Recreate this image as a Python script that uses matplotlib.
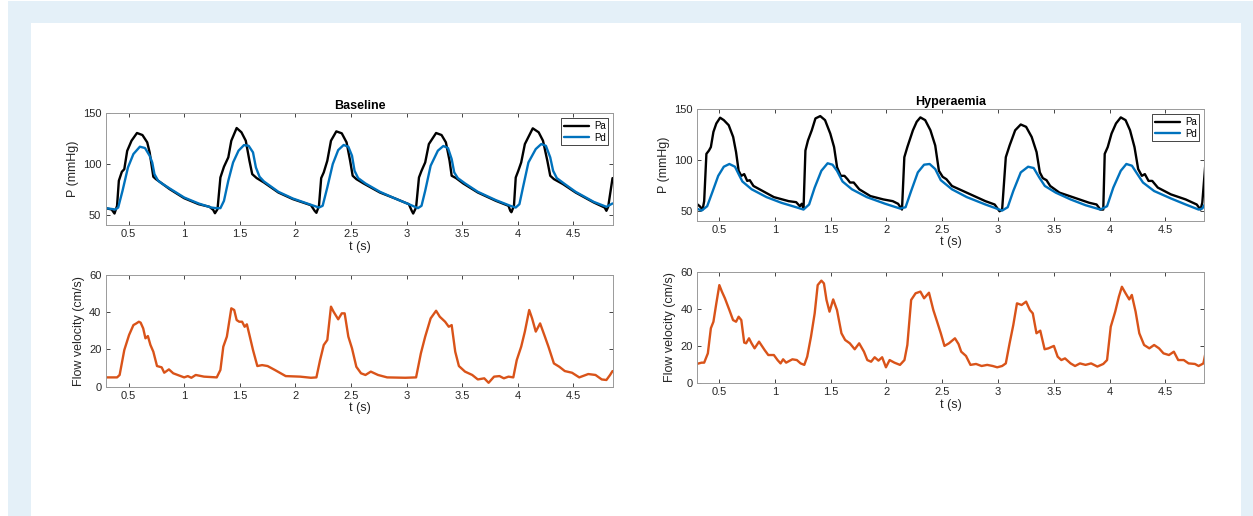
import numpy as np
import matplotlib.pyplot as plt
from matplotlib.patches import Rectangle

plt.rcParams['font.family'] = ['Liberation Sans', 'DejaVu Sans']
plt.rcParams['lines.solid_joinstyle'] = 'round'
plt.rcParams['lines.solid_capstyle'] = 'round'

# ---- Baseline: pressures ----
t_pa_base = [0.293, 0.348, 0.374, 0.397, 0.413, 0.44, 0.462, 0.488, 0.527, 0.576, 0.625, 0.668, 0.69,
             0.723, 0.746, 0.788, 0.87, 1.0, 1.13, 1.228, 1.261, 1.277,
             1.30, 1.326, 1.358, 1.397, 1.424, 1.472, 1.515, 1.554, 1.587, 1.612, 1.652, 1.717, 1.847,
             1.977, 2.14, 2.173, 2.189,
             2.212, 2.232, 2.255, 2.287, 2.32, 2.368, 2.417, 2.46, 2.492, 2.515, 2.548, 2.613, 2.76,
             2.89, 3.02, 3.046, 3.059,
             3.085, 3.111, 3.134, 3.167, 3.2, 3.265, 3.314, 3.353, 3.386, 3.405, 3.444, 3.509, 3.64,
             3.802, 3.916, 3.932, 3.942,
             3.965, 3.981, 4.004, 4.03, 4.063, 4.134, 4.187, 4.226, 4.265, 4.291, 4.324, 4.405, 4.519,
             4.682, 4.78, 4.796, 4.812, 4.851]
pa_base = [56.6, 55.3, 51.3, 58.9, 83.6, 92.4, 95.0, 113.0, 123.0, 130.6, 128.6, 121.4, 111.5,
           87.5, 85.2, 81.9, 75.3, 66.4, 60.5, 57.9, 54.9, 51.6,
           55.6, 86.8, 97.4, 106.6, 123.0, 135.5, 131.3, 123.0, 103.3, 90.1, 86.2, 81.9, 72.0,
           65.5, 59.5, 54.0, 52.0,
           58.9, 86.2, 91.8, 103.3, 123.0, 132.2, 130.3, 121.4, 103.3, 88.5, 85.2, 80.9, 72.0,
           66.4, 60.5, 54.0, 51.3,
           57.2, 86.8, 93.4, 101.6, 119.7, 130.6, 128.6, 121.4, 103.3, 88.5, 86.2, 80.9, 72.0,
           63.8, 58.9, 54.0, 52.6,
           58.9, 86.8, 93.4, 101.6, 119.7, 135.2, 131.3, 123.0, 103.3, 88.5, 85.2, 80.3, 72.0,
           62.2, 57.2, 54.0, 57.9, 86.2]

t_pd_base = [0.293, 0.381, 0.407, 0.446, 0.495, 0.544, 0.602, 0.648, 0.69, 0.713, 0.733, 0.766, 0.8,
             0.87, 1.0, 1.13, 1.244, 1.287,
             1.326, 1.358, 1.397, 1.44, 1.489, 1.538, 1.58, 1.619, 1.645, 1.678, 1.717, 1.847, 1.977,
             2.14, 2.212,
             2.245, 2.287, 2.336, 2.385, 2.434, 2.476, 2.509, 2.532, 2.564, 2.63, 2.76, 2.89, 3.02, 3.102,
             3.134, 3.167, 3.216, 3.281, 3.33, 3.372, 3.405, 3.428, 3.46, 3.526, 3.64, 3.802, 3.932, 3.981,
             4.014, 4.046, 4.095, 4.161, 4.21, 4.252, 4.291, 4.317, 4.35, 4.422, 4.519, 4.682, 4.796, 4.851]
pd_base = [56.6, 55.3, 57.2, 73.7, 96.7, 109.9, 117.1, 115.8, 108.2, 101.6, 90.1, 83.6, 80.9,
           76.0, 67.1, 61.2, 57.2, 56.6,
           56.6, 63.8, 83.6, 101.6, 113.2, 118.7, 118.0, 111.5, 96.7, 87.5, 82.9, 72.7, 66.1,
           59.9, 57.2,
           58.9, 77.0, 100.0, 113.8, 118.8, 117.1, 108.2, 93.4, 86.2, 80.9, 72.7, 66.4, 60.5, 56.6,
           58.9, 73.7, 98.4, 113.2, 117.8, 115.8, 104.9, 91.8, 86.2, 80.9, 72.7, 64.5, 58.9, 57.2,
           60.5, 77.0, 101.6, 114.8, 119.7, 118.0, 106.6, 93.4, 86.2, 80.3, 72.7, 62.8, 57.9, 61.2]

# ---- Baseline: flow velocity ----
t_flow_base = [0.293, 0.397, 0.42, 0.462, 0.505, 0.544, 0.57, 0.593, 0.609, 0.632, 0.652, 0.674, 0.697,
               0.723, 0.756, 0.798, 0.821, 0.863, 0.902, 1.0, 1.033, 1.065, 1.104, 1.179, 1.293,
               1.326, 1.352, 1.384, 1.424, 1.45, 1.472, 1.495, 1.521, 1.544, 1.564, 1.587, 1.619, 1.658,
               1.701, 1.75, 1.815, 1.913, 2.043, 2.14, 2.189,
               2.222, 2.255, 2.287, 2.32, 2.343, 2.385, 2.417, 2.443, 2.476, 2.509, 2.548, 2.59, 2.63,
               2.678, 2.743, 2.825, 2.988, 3.085,
               3.128, 3.167, 3.216, 3.265, 3.298, 3.346, 3.379, 3.405, 3.437, 3.47, 3.525, 3.59, 3.64,
               3.698, 3.737, 3.786, 3.835, 3.874, 3.916, 3.959,
               3.99, 4.03, 4.063, 4.102, 4.128, 4.161, 4.2, 4.243, 4.275, 4.324, 4.373, 4.422, 4.487,
               4.552, 4.633, 4.698, 4.754, 4.796, 4.829, 4.851]
flow_base = [5.0, 5.0, 6.3, 19.7, 27.8, 33.1, 34.0, 34.9, 34.4, 31.3, 26.0, 27.2, 22.4,
             18.8, 11.1, 10.4, 7.5, 9.3, 7.2, 5.0, 5.7, 4.8, 6.3, 5.4, 5.0,
             9.0, 21.5, 26.9, 42.1, 41.2, 35.8, 34.9, 34.9, 32.2, 33.5, 27.8, 19.7, 11.1,
             11.6, 11.1, 9.0, 5.7, 5.4, 4.8, 5.0,
             14.3, 22.4, 25.1, 43.0, 40.3, 36.2, 39.4, 39.4, 26.9, 20.6, 10.7, 7.2, 6.3,
             8.1, 6.3, 5.0, 4.8, 5.0,
             17.9, 26.9, 36.7, 40.8, 37.6, 34.9, 32.2, 33.1, 18.8, 11.1, 8.1, 6.3, 3.9,
             4.5, 2.1, 5.4, 5.7, 4.5, 5.4, 5.0,
             14.3, 21.5, 29.6, 41.2, 36.7, 29.6, 34.0, 26.9, 21.5, 12.5, 10.7, 8.4, 7.5,
             5.0, 6.8, 6.3, 3.9, 3.6, 6.3, 8.4]

# ---- Hyperaemia: pressures ----
t_pa_hyp = [0.298, 0.325, 0.351, 0.365, 0.385, 0.408, 0.425, 0.448, 0.474, 0.508, 0.541, 0.585, 0.625,
            0.651, 0.674, 0.698, 0.724, 0.751, 0.774, 0.807, 0.89, 0.99, 1.123, 1.19, 1.223, 1.24, 1.256,
            1.273, 1.296, 1.33, 1.363, 1.406, 1.449, 1.496, 1.53, 1.557, 1.59, 1.623, 1.65, 1.673, 1.706,
            1.756, 1.856, 1.972, 2.056, 2.104, 2.139,
            2.16, 2.187, 2.237, 2.271, 2.304, 2.347, 2.394, 2.437, 2.47, 2.504, 2.537, 2.587, 2.687,
            2.787, 2.887, 2.97, 3.014, 3.037,
            3.07, 3.104, 3.154, 3.204, 3.252, 3.302, 3.346, 3.375, 3.402, 3.435, 3.468, 3.551, 3.685,
            3.818, 3.884, 3.918, 3.944,
            3.957, 3.984, 4.018, 4.058, 4.101, 4.144, 4.184, 4.224, 4.257, 4.29, 4.317, 4.35, 4.383,
            4.433, 4.55, 4.683, 4.782, 4.816, 4.832, 4.872]
pa_hyp = [56.7, 54.3, 51.0, 59.3, 106.0, 109.3, 112.7, 127.7, 136.0, 141.7, 139.3, 134.3, 122.7,
          107.7, 89.3, 84.3, 86.0, 79.3, 80.0, 74.3, 69.3, 63.3, 59.3, 58.3, 54.3, 56.7, 52.0,
          109.3, 119.3, 129.3, 141.0, 143.3, 139.3, 126.0, 112.7, 92.7, 84.3, 84.3, 81.0, 77.7, 77.7,
          71.0, 64.3, 61.0, 59.3, 56.7, 51.0,
          102.7, 112.7, 129.3, 137.7, 142.0, 139.3, 129.3, 114.3, 89.3, 83.3, 81.0, 74.3, 69.3,
          64.3, 59.3, 56.0, 49.3, 51.0,
          102.7, 114.3, 129.3, 135.0, 132.7, 122.7, 107.7, 87.7, 82.0, 80.0, 74.3, 67.7, 62.7,
          57.7, 56.0, 51.0, 51.0,
          106.0, 112.7, 126.0, 136.0, 142.0, 139.3, 129.3, 112.7, 91.0, 84.3, 86.0, 79.3, 79.3,
          72.7, 66.0, 61.0, 56.0, 51.0, 57.7, 113.3]

t_pd_hyp = [0.298, 0.342, 0.392, 0.442, 0.491, 0.541, 0.591, 0.641, 0.674, 0.708, 0.791, 0.924, 1.057,
            1.19, 1.256,
            1.306, 1.356, 1.416, 1.472, 1.516, 1.556, 1.606, 1.69, 1.823, 1.989, 2.122,
            2.171, 2.221, 2.281, 2.337, 2.387, 2.437, 2.487, 2.587, 2.72, 2.887, 3.037,
            3.087, 3.137, 3.204, 3.27, 3.32, 3.37, 3.42, 3.518, 3.651, 3.785, 3.918,
            3.978, 4.034, 4.101, 4.151, 4.201, 4.25, 4.3, 4.4, 4.55, 4.683, 4.799, 4.832, 4.872]
pd_hyp = [52.0, 50.0, 54.3, 69.3, 84.3, 93.3, 96.0, 93.3, 86.0, 78.7, 71.0, 63.3, 57.7,
          53.3, 51.0,
          56.0, 72.7, 89.3, 96.7, 95.3, 89.3, 78.7, 71.0, 63.3, 56.7, 52.0,
          53.3, 69.3, 87.7, 95.3, 96.0, 91.0, 80.0, 71.0, 63.3, 56.0, 50.0,
          53.3, 69.3, 87.7, 93.3, 92.0, 82.7, 74.3, 67.7, 61.0, 55.3, 51.0,
          54.3, 72.7, 89.3, 96.0, 94.3, 86.0, 77.7, 69.3, 62.0, 56.0, 51.0, 52.0, 59.3]

# ---- Hyperaemia: flow velocity ----
t_flow_hyp = [0.298, 0.342, 0.365, 0.398, 0.425, 0.448, 0.474, 0.501, 0.524, 0.551, 0.591, 0.624, 0.651,
              0.674, 0.698, 0.724, 0.741, 0.767, 0.79, 0.817, 0.857, 0.907, 0.94, 0.99, 1.023, 1.05,
              1.073, 1.1, 1.156, 1.196, 1.23, 1.263,
              1.289, 1.323, 1.356, 1.383, 1.416, 1.439, 1.462, 1.489, 1.522, 1.556, 1.596, 1.629, 1.671,
              1.715, 1.755, 1.798, 1.828, 1.862, 1.894, 1.928, 1.961, 1.995, 2.028, 2.071, 2.121, 2.161,
              2.187, 2.221, 2.261, 2.304, 2.337, 2.381, 2.42, 2.454, 2.487, 2.52, 2.56, 2.614, 2.646,
              2.67, 2.713, 2.753, 2.803, 2.853, 2.903, 2.953, 2.993, 3.037, 3.07,
              3.104, 3.137, 3.17, 3.212, 3.252, 3.286, 3.312, 3.345, 3.379, 3.418, 3.452, 3.501, 3.535,
              3.568, 3.601, 3.651, 3.691, 3.735, 3.785, 3.835, 3.891, 3.944, 3.978,
              4.011, 4.051, 4.084, 4.111, 4.144, 4.177, 4.2, 4.234, 4.267, 4.31, 4.357, 4.4, 4.444,
              4.484, 4.533, 4.577, 4.616, 4.666, 4.709, 4.766, 4.799, 4.842, 4.872]
flow_hyp = [10.4, 11.1, 11.1, 16.1, 29.6, 33.1, 43.0, 52.8, 49.3, 45.7, 39.4, 34.0, 33.1,
            35.8, 34.0, 21.9, 21.5, 24.2, 21.5, 18.8, 22.4, 17.9, 15.2, 15.2, 12.5, 10.7,
            12.9, 11.1, 12.9, 12.5, 10.7, 9.9,
            14.3, 25.1, 37.6, 52.8, 55.2, 53.7, 44.8, 38.5, 45.1, 39.4, 26.9, 23.3, 21.5,
            18.3, 21.5, 17.0, 12.5, 11.6, 14.0, 12.2, 14.0, 8.6, 12.5, 11.1, 9.9, 12.5,
            20.6, 44.8, 48.4, 49.3, 45.7, 48.7, 39.4, 33.1, 26.9, 20.1, 21.5, 24.2, 21.1,
            17.0, 14.7, 9.9, 10.4, 9.3, 9.9, 9.3, 8.6, 9.3, 10.7,
            21.5, 31.3, 43.0, 42.1, 43.9, 39.4, 37.6, 26.9, 28.3, 18.3, 18.8, 20.1, 14.3,
            12.5, 13.4, 10.7, 9.3, 10.7, 9.9, 10.7, 9.0, 10.4, 12.5,
            30.4, 38.5, 46.6, 51.9, 48.4, 45.1, 47.5, 38.5, 26.9, 20.6, 18.8, 20.6, 18.8,
            16.1, 15.2, 17.0, 12.5, 12.5, 10.7, 10.4, 9.3, 10.7, 19.7]

x_ticks = [0.5, 1, 1.5, 2, 2.5, 3, 3.5, 4, 4.5]
x_ticklabels = ['0.5', '1', '1.5', '2', '2.5', '3', '3.5', '4', '4.5']

C_PA = 'black'
C_PD = '#0072BD'
C_FLOW = '#D95319'

W, H = 1253, 516
fig = plt.figure(figsize=(W / 100, H / 100), dpi=100, facecolor='white')

# fundo azul claro com painel branco
fig.patches.append(Rectangle((8 / W, 0), (W - 8) / W, (H - 1) / H, transform=fig.transFigure,
                             facecolor='#e4f0f8', edgecolor='none', zorder=-2))
fig.patches.append(Rectangle((31 / W, 0), (1241 - 31) / W, (H - 23) / H, transform=fig.transFigure,
                             facecolor='white', edgecolor='none', zorder=-1))


def make_ax(x0, x1, y0, y1):
    return fig.add_axes([x0 / W, 1 - y1 / H, (x1 - x0) / W, (y1 - y0) / H])


def style(ax, xlim, ylim, yticks):
    ax.set_xlim(*xlim)
    ax.set_ylim(*ylim)
    ax.set_xticks(x_ticks)
    ax.set_xticklabels(x_ticklabels)
    ax.set_yticks(yticks)
    ax.tick_params(direction='in', length=3, width=0.6, labelsize=8, colors='#262626', pad=3,
                   top=True, right=True)
    for s in ax.spines.values():
        s.set_color('#9a9a9a')
        s.set_linewidth(0.7)
    ax.set_xlabel('t (s)', fontsize=9, color='#262626', labelpad=1)


panels = [
    ('Baseline', (105.5, 613.3, 113.3, 225.0), (105.5, 613.3, 275.0, 386.7), (0.293, 4.858),
     t_pa_base, pa_base, t_pd_base, pd_base, t_flow_base, flow_base),
    ('Hyperaemia', (696.7, 1204.3, 109.3, 220.7), (696.7, 1204.3, 271.7, 383.3), (0.298, 4.85),
     t_pa_hyp, pa_hyp, t_pd_hyp, pd_hyp, t_flow_hyp, flow_hyp),
]

for titulo, box_p, box_f, xlim, tpa, pa, tpd, pd_, tfl, fl in panels:
    ax = make_ax(*box_p)
    ax.plot(tpa, pa, color=C_PA, lw=1.7, label='Pa')
    ax.plot(tpd, pd_, color=C_PD, lw=1.7, label='Pd')
    style(ax, xlim, (40, 150), [50, 100, 150])
    ax.set_ylabel('P (mmHg)', fontsize=9, color='#262626', labelpad=3)
    ax.set_title(titulo, fontsize=9, fontweight='bold', pad=3)
    leg = ax.legend(loc='upper right', fontsize=7, fancybox=False, edgecolor='#262626',
                    framealpha=1, handlelength=2.6, borderpad=0.3, labelspacing=0.15,
                    handletextpad=0.5, borderaxespad=0.5)
    leg.get_frame().set_linewidth(0.6)

    ax2 = make_ax(*box_f)
    ax2.plot(tfl, fl, color=C_FLOW, lw=1.7)
    style(ax2, xlim, (0, 60), [0, 20, 40, 60])
    ax2.set_ylabel('Flow velocity (cm/s)', fontsize=9, color='#262626', labelpad=3)

plt.savefig('out.png', dpi=100)
